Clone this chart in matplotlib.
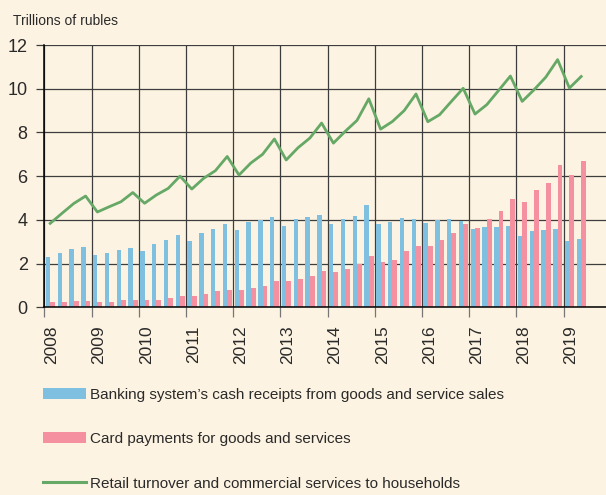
"""Quarterly cash receipts, card payments and retail turnover in Russia, 2008-2019."""

from __future__ import annotations

import numpy as np
from matplotlib import pyplot as plt
from matplotlib.lines import Line2D
from matplotlib.patches import Patch

YEARS = list(range(2008, 2020))

# Banking system's cash receipts, trillions of rubles, 2008Q1..2019Q2
CASH_RECEIPTS = [
    2.29, 2.50, 2.69, 2.78,
    2.37, 2.47, 2.61, 2.72,
    2.56, 2.90, 3.10, 3.30,
    3.05, 3.42, 3.56, 3.80,
    3.54, 3.92, 4.00, 4.12,
    3.72, 4.04, 4.15, 4.23,
    3.82, 4.05, 4.18, 4.67,
    3.82, 3.92, 4.09, 4.06,
    3.85, 3.98, 4.02, 3.97,
    3.57, 3.68, 3.69, 3.71,
    3.27, 3.47, 3.53, 3.56,
    3.04, 3.13,
]

CARD_PAYMENTS = [
    0.23, 0.24, 0.29, 0.29,
    0.23, 0.23, 0.34, 0.32,
    0.32, 0.34, 0.43, 0.53,
    0.53, 0.63, 0.76, 0.81,
    0.79, 0.88, 0.99, 1.22,
    1.19, 1.30, 1.45, 1.65,
    1.62, 1.77, 1.97, 2.35,
    2.06, 2.18, 2.56, 2.81,
    2.81, 3.10, 3.39, 3.80,
    3.65, 4.03, 4.41, 4.95,
    4.82, 5.36, 5.69, 6.49,
    6.06, 6.70,
]

RETAIL_TURNOVER = [
    3.84, 4.30, 4.75, 5.09,
    4.36, 4.60, 4.83, 5.25,
    4.76, 5.14, 5.44, 6.00,
    5.41, 5.90, 6.25, 6.90,
    6.05, 6.60, 7.00, 7.70,
    6.74, 7.30, 7.74, 8.43,
    7.51, 8.05, 8.55, 9.54,
    8.15, 8.50, 9.00, 9.76,
    8.49, 8.81, 9.42, 10.02,
    8.84, 9.27, 9.92, 10.58,
    9.42, 9.95, 10.53, 11.33,
    10.03, 10.56,
]

LABELS = [
    "Banking system’s cash receipts from goods and service sales",
    "Card payments for goods and services",
    "Retail turnover and commercial services to households",
]

BG = "#fdf3e2"
BLUE = "#7fbfdf"
PINK = "#f4909f"
GREEN = "#66a866"
TEXT = "#2a2a2a"
GRID = "#3d3d3d"


def main() -> int:
    plt.rcParams["font.family"] = ["Liberation Sans", "DejaVu Sans"]

    width_px, height_px = 606, 495
    fig = plt.figure(figsize=(width_px / 100, height_px / 100), dpi=100, facecolor=BG)
    ax = fig.add_axes([44.3 / width_px, (height_px - 307.3) / height_px,
                       (width_px - 44.3) / width_px, 262.3 / height_px])
    ax.set_facecolor(BG)

    # quarter centres in fractional years
    n = len(CASH_RECEIPTS)
    x = YEARS[0] + (np.arange(n) + 0.5) / 4

    ax.bar(x - 0.095, CASH_RECEIPTS, width=0.095, align="edge", color=BLUE, zorder=3)
    ax.bar(x, CARD_PAYMENTS, width=0.1, align="edge", color=PINK, zorder=3)
    ax.plot(x, RETAIL_TURNOVER, color=GREEN, linewidth=2.0, zorder=4)

    ax.set_xlim(YEARS[0], YEARS[0] + (width_px - 44.3) / 47.2)
    ax.set_ylim(0, 12)
    ax.set_yticks(range(0, 13, 2))
    ax.set_xticks(YEARS)
    ax.set_xticklabels([str(y) for y in YEARS], rotation=90, ha="left", va="top")
    ax.grid(True, color=GRID, linewidth=0.9, zorder=1)

    for side in ("top", "right"):
        ax.spines[side].set_visible(False)
    for side in ("left", "bottom"):
        ax.spines[side].set_color("black")
        ax.spines[side].set_linewidth(1.1)
        ax.spines[side].set_zorder(5)

    ax.tick_params(axis="y", length=6, width=0.9, color=GRID, pad=6,
                   labelsize=13, labelcolor=TEXT)
    ax.tick_params(axis="x", length=7, width=0.9, color="#777777", pad=6,
                   labelsize=12.5, labelcolor=TEXT)

    fig.text(13 / width_px, 1 - 21 / height_px, "Trillions of rubles",
             fontsize=10, color=TEXT, va="center", ha="left")

    handles = [
        Patch(facecolor=BLUE, edgecolor="none"),
        Patch(facecolor=PINK, edgecolor="none"),
        Line2D([], [], color=GREEN, linewidth=2.2),
    ]
    # last row sits just above the bottom edge so it is not clipped
    fig.legend(
        handles, LABELS,
        loc="upper left",
        bbox_to_anchor=(43 / width_px, 1 - 388 / height_px),
        frameon=False,
        fontsize=11,
        handlelength=2.8,
        handleheight=0.72,
        handletextpad=0.3,
        labelspacing=1.98,
        borderpad=0,
        borderaxespad=0,
        labelcolor=TEXT,
    )

    fig.savefig("out.png", dpi=100, facecolor=BG)
    plt.close(fig)
    return 0


if __name__ == "__main__":
    raise SystemExit(main())
